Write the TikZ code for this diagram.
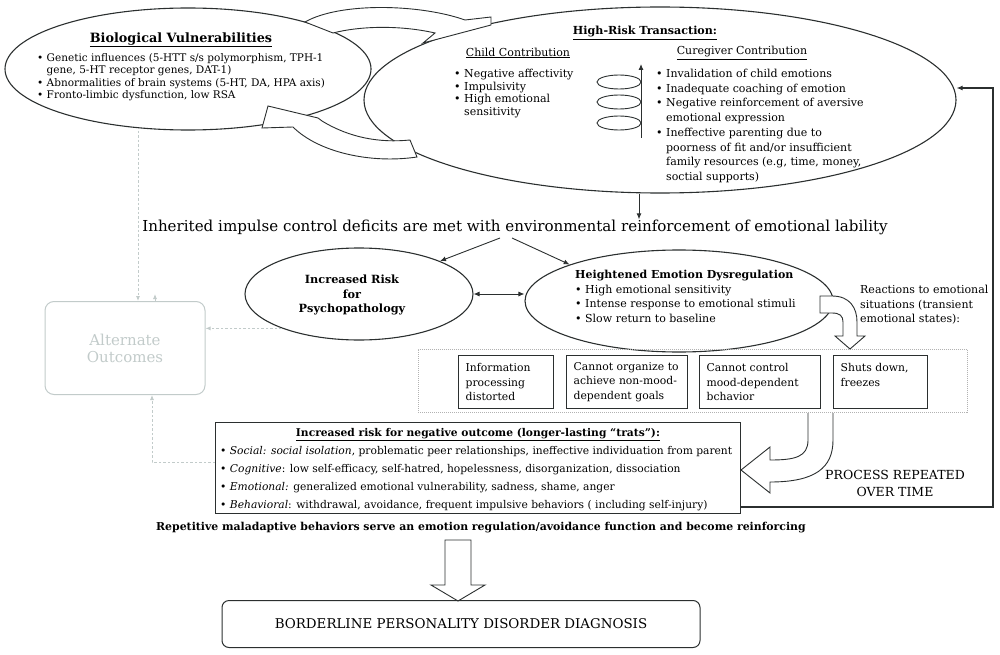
\documentclass[tikz,border=0pt]{standalone}
\usepackage{fontspec}
\setmainfont{DejaVu Serif}
\usepackage{tikz}
\usetikzlibrary{shapes.geometric,arrows.meta}
\usepackage{xcolor}
\definecolor{inkgray}{HTML}{2B2F2F}
\definecolor{altgray}{HTML}{C2CBCA}
\newcommand{\bitem}{\textbullet\ }
\newcommand{\bcont}{\phantom{\textbullet\ }}
\tikzset{
  oval/.style={draw=inkgray, ellipse, line width=1.1pt, inner sep=0pt},
  txt/.style={inner sep=0pt, align=left, anchor=north west},
  stepbox/.style={draw=inkgray, line width=1.3pt, anchor=north west, align=left,
                  inner xsep=7pt, inner ysep=0pt, minimum height=53pt,
                  font={\fontsize{10.8}{14.5}\selectfont}},
  fatarrow/.style={draw=inkgray, fill=white, line width=0.9pt, line join=miter},
  link/.style={inkgray, line width=0.9pt, -{Latex[length=6pt,width=5pt]}},
  twoway/.style={inkgray, line width=0.9pt, {Latex[length=6pt,width=5pt]}-{Latex[length=6pt,width=5pt]}},
  altline/.style={altgray, line width=0.8pt, dash pattern=on 2.5pt off 2pt, -{Latex[length=5pt,width=4pt]}},
}

\begin{document}
\begin{tikzpicture}[x=1pt,y=-1pt]
    \useasboundingbox (0,0) rectangle (1000,655);
    %Ellipses
    \node[oval, minimum width=366pt, minimum height=122pt] (bio) at (188,69) {};
    \node[oval, minimum width=592pt, minimum height=186pt] (hr) at (660,100) {};
    \node[oval, minimum width=228pt, minimum height=92pt] (risk) at (359,294) {};
    \node[oval, minimum width=308pt, minimum height=102pt] (dysreg) at (679,301) {};
    %Biological vulnerabilities
    \node[inner sep=0pt, font={\fontsize{12.8}{14}\selectfont\bfseries}] (biotitle) at (181,40) {\underline{Biological Vulnerabilities}};
    \node[txt, font={\fontsize{10.5}{12.5}\selectfont}] (biolist) at (37,53)
      {\bitem Genetic influences (5-HTT s/s polymorphism, TPH-1\\
       \bcont gene, 5-HT receptor genes, DAT-1)\\
       \bitem Abnormalities of brain systems (5-HT, DA, HPA axis)\\
       \bitem Fronto-limbic dysfunction, low RSA};
    %High-risk transaction
    \node[inner sep=0pt, font={\fontsize{11.1}{13}\selectfont\bfseries}] (hrtitle) at (645,33) {\underline{High-Risk Transaction:}};
    \node[inner sep=0pt, font={\fontsize{11}{13}\selectfont}] (childhead) at (518,53) {\underline{Child Contribution}};
    \node[inner sep=0pt, font={\fontsize{11}{13}\selectfont}] (carehead) at (742,53) {\underline{Curegiver Contribution}};
    \node[txt, font={\fontsize{11}{12.6}\selectfont}] (childlist) at (454,69)
      {\bitem Negative affectivity\\
       \bitem Impulsivity\\
       \bitem High emotional\\
       \bcont sensitivity};
    \node[txt, font={\fontsize{11}{14.7}\selectfont}] (carelist) at (656,69)
      {\bitem Invalidation of child emotions\\
       \bitem Inadequate coaching of emotion\\
       \bitem Negative reinforcement of aversive\\
       \bcont emotional expression\\
       \bitem Ineffective parenting due to\\
       \bcont poorness of fit and/or insufficient\\
       \bcont family resources (e.g, time, money,\\
       \bcont soctial supports)};
    %Spiral
    \foreach \y in {82,102,123}
      \draw[inkgray, line width=0.9pt] (619,\y) ellipse (22 and 7);
    \draw[link] (641,138) -- (641,64);
    %Curved arrows between the ellipses
    \filldraw[fatarrow] (305,22) .. controls (340,2) and (420,4) .. (465,20) -- (491,17) -- (491,25)
      -- (423,43) -- (435,33) .. controls (400,25) and (360,26) .. (333,33) -- cycle;
    \filldraw[fatarrow] (417,157) .. controls (370,164) and (318,152) .. (293,127) -- (262,128) -- (268,106)
      -- (318,118) -- (322,121) .. controls (350,138) and (380,143) .. (410,140) -- cycle;
    %Middle line
    \node[inner sep=0pt, font={\fontsize{15.1}{17}\selectfont}] (inherit) at (515,227)
      {Inherited impulse control deficits are met with environmental reinforcement of emotional lability};
    \draw[link] (hr.south -| 639,0) -- (inherit.north -| 639,0);
    \coordinate (forkl) at (500,238);
    \coordinate (forkr) at (512,238);
    \draw[link] (forkl) -- (risk.north east);
    \draw[link] (forkr) -- (dysreg.north west);
    \draw[twoway] (risk.east) -- (risk.east -| dysreg.west);
    %Risk and dysregulation
    \node[inner sep=0pt, align=center, font={\fontsize{11.3}{14.5}\selectfont\bfseries}] (risktext) at (352,295)
      {Increased Risk\\for\\Psychopathology};
    \node[txt, font={\fontsize{11}{14.5}\selectfont}] (dysregtext) at (575,270)
      {\textbf{Heightened Emotion Dysregulation}\\
       \bitem High emotional sensitivity\\
       \bitem Intense response to emotional stimuli\\
       \bitem Slow return to baseline};
    \node[txt, font={\fontsize{11}{14.5}\selectfont}] (react) at (860,285)
      {Reactions to emotional\\situations (transient\\emotional states):};
    %Transient states
    \node[draw=black!30, line width=0.8pt, dash pattern=on 1pt off 1pt, anchor=north west, inner sep=0pt,
          minimum width=549pt, minimum height=63pt] (states) at (418,349) {};
    \node[stepbox, text width=81pt] (info) at (458,355) {Information\\processing\\distorted};
    \node[stepbox, text width=107pt] (goals) at (566,355) {Cannot organize to\\achieve non-mood-\\dependent goals};
    \node[stepbox, text width=107pt] (control) at (699,355) {Cannot control\\mood-dependent\\bchavior};
    \node[stepbox, text width=80pt] (freeze) at (833,355) {Shuts down,\\freezes\\\mbox{}};
    \filldraw[fatarrow] (820,313) -- (820,296) -- (832,296) .. controls (850,296) and (857,308) .. (857,322)
      -- (857,336) -- (865,336) -- (850,349) -- (835,336) -- (843,336) -- (843,322)
      .. controls (843,316) and (840,313) .. (832,313) -- cycle;
    %Outcome
    \node[draw=inkgray, line width=1.3pt, anchor=north west, inner sep=0pt,
          minimum width=525pt, minimum height=91pt] (outcome) at (215,422) {};
    \node[inner sep=0pt, font={\fontsize{10.7}{12}\selectfont\bfseries}] (outtitle) at (478,435)
      {\underline{Increased risk for negative outcome (longer-lasting “trats”):}};
    \node[txt, font={\fontsize{10.7}{18}\selectfont}] (outlist) at (220,446)
      {\bitem \textit{Social: social isolation}, problematic peer relationships, ineffective individuation from parent\\
       \bitem \textit{Cognitive}: low self-efficacy, self-hatred, hopelessness, disorganization, dissociation\\
       \bitem \textit{Emotional:} generalized emotional vulnerability, sadness, shame, anger\\
       \bitem \textit{Behavioral}: withdrawal, avoidance, frequent impulsive behaviors ( including self-injury)};
    \filldraw[fatarrow] (808,413) -- (808,440) .. controls (808,457) and (795,460) .. (770,460) -- (770,447)
      -- (741,470) -- (770,493) -- (770,482) .. controls (815,482) and (833,468) .. (833,440) -- (833,413);
    %Process repeated
    \node[inner sep=0pt, align=center, font={\fontsize{12.5}{17}\selectfont}] (process) at (895,483)
      {PROCESS REPEATED\\OVER TIME};
    \coordinate (loopa) at (993,507);
    \coordinate (loopb) at (993,88);
    \draw[link, line width=1.1pt] (outcome.east |- loopa) -- (loopa) -- (loopb) -- (loopb -| hr.east);
    %Diagnosis
    \node[inner sep=0pt, font={\fontsize{10.9}{12}\selectfont\bfseries}] (reinforce) at (481,528)
      {Repetitive maladaptive behaviors serve an emotion regulation/avoidance function and become reinforcing};
    \filldraw[fatarrow] (445,540) -- (445,585) -- (431,585) -- (458,601) -- (485,585) -- (471,585) -- (471,540) -- cycle;
    \node[draw=inkgray, line width=1pt, rounded corners=7pt, minimum width=478pt, minimum height=47pt,
          font={\fontsize{13.4}{15}\selectfont}] (bpd) at (461,624) {BORDERLINE PERSONALITY DISORDER DIAGNOSIS};
    %Alternate outcomes
    \node[draw=altgray, line width=1pt, rounded corners=9pt, minimum width=160pt, minimum height=93pt,
          text=altgray, align=center, font={\fontsize{15}{17}\selectfont}] (alt) at (125,348) {Alternate\\Outcomes};
    \draw[altline] (bio.south -| 138,0) -- (alt.north -| 138,0);
    \draw[altline] (alt.north -| 155,0) -- ++(0,-7);
    \draw[altline] (risk.204) -- (risk.204 -| alt.east);
    \draw[altline] (outcome.west |- 0,462) -| (alt.south -| 152,0);
\end{tikzpicture}
\end{document}
